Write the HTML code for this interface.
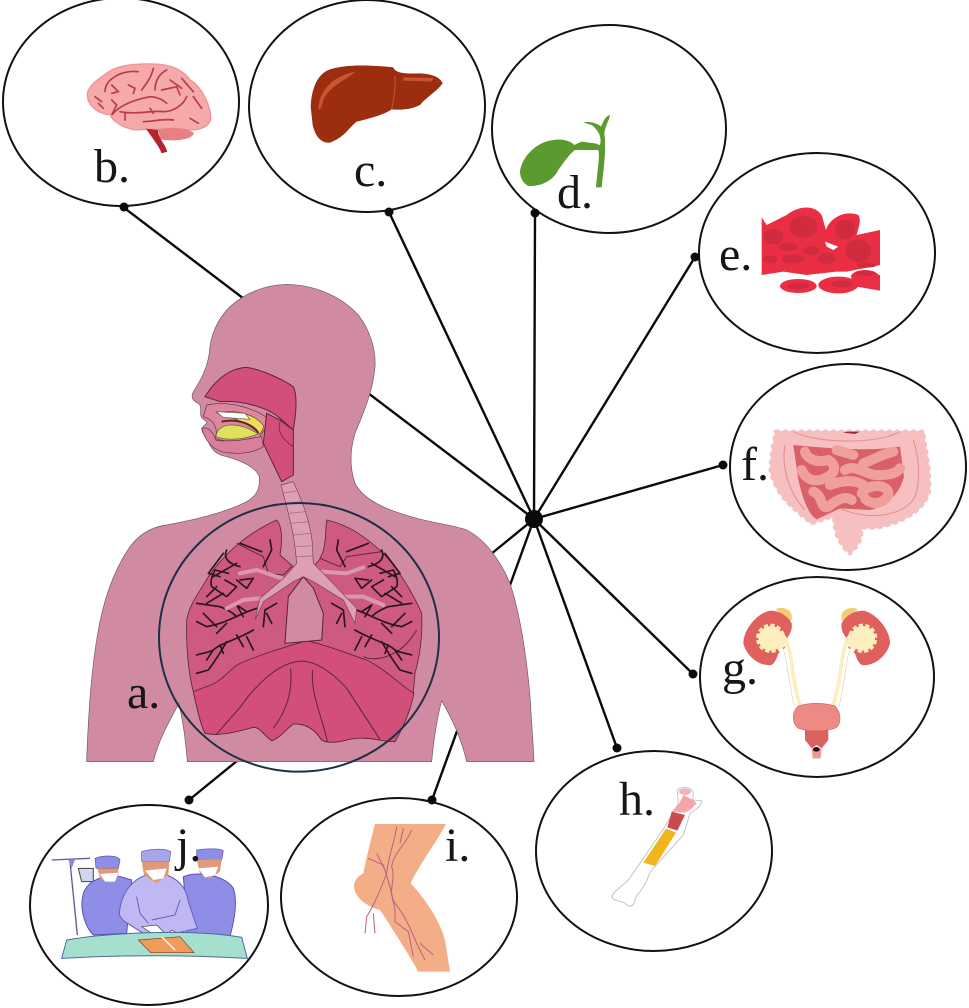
<!DOCTYPE html>
<html><head><meta charset="utf-8"><style>
html,body{margin:0;padding:0;background:#fff;width:969px;height:1008px;overflow:hidden}
svg{display:block}
text{font-family:"Liberation Serif",serif;font-size:48px;fill:#161616}
</style></head><body>
<svg width="969" height="1008" viewBox="0 0 969 1008" xmlns="http://www.w3.org/2000/svg">
<rect width="969" height="1008" fill="#fff"/>

<!-- bubbles -->
<g fill="none" stroke="#111" stroke-width="2">
<ellipse cx="121" cy="102" rx="118" ry="104"/>
<ellipse cx="367" cy="106" rx="118" ry="106"/>
<ellipse cx="609" cy="129" rx="117" ry="104"/>
<ellipse cx="817" cy="253" rx="118" ry="100"/>
<ellipse cx="848" cy="467" rx="118" ry="103"/>
<ellipse cx="817" cy="677" rx="117" ry="100"/>
<ellipse cx="654" cy="851" rx="118" ry="100"/>
<ellipse cx="399" cy="897" rx="118" ry="99"/>
<ellipse cx="149" cy="905" rx="119" ry="100"/>
</g>

<!-- connectors -->
<g stroke="#0a0a0a" stroke-width="2.4" fill="none">
<line x1="534" y1="519" x2="123" y2="207"/>
<line x1="534" y1="519" x2="389" y2="212"/>
<line x1="534" y1="519" x2="535" y2="213"/>
<line x1="534" y1="519" x2="695" y2="257"/>
<line x1="534" y1="519" x2="723" y2="465"/>
<line x1="534" y1="519" x2="693" y2="674"/>
<line x1="534" y1="519" x2="617" y2="748"/>
<line x1="534" y1="519" x2="432" y2="800"/>
<line x1="534" y1="519" x2="189" y2="800"/>
</g>
<g fill="#0a0a0a">
<circle cx="534" cy="519" r="9"/>
<circle cx="124" cy="207" r="4.5"/><circle cx="389" cy="212" r="4.5"/><circle cx="535" cy="213" r="4.5"/>
<circle cx="695" cy="257" r="4.5"/><circle cx="723" cy="465" r="4.5"/><circle cx="693" cy="674" r="4.5"/>
<circle cx="617" cy="748" r="4.5"/><circle cx="432" cy="800" r="4.5"/><circle cx="189" cy="800" r="4.5"/>
</g>

<!-- body and lungs -->
<g transform="translate(80,280) scale(.33333)">
<path d="M20,1445 C25,1300 35,1170 50,1080 C65,980 95,880 150,800 C180,760 220,740 260,735 C340,720 430,700 500,665 C535,645 540,620 538,590 C525,560 490,545 440,530 C410,525 395,510 385,485 C375,470 365,455 365,445 C372,435 385,430 380,425 C365,415 360,410 362,395 C362,380 362,372 350,368 C338,360 332,352 340,335 C360,305 380,270 388,220 C390,170 410,120 450,80 C500,35 560,15 620,13 C700,15 780,45 835,105 C870,150 888,210 885,260 C880,330 850,400 825,460 C810,510 808,560 825,610 C850,660 920,690 1000,712 C1060,730 1120,735 1160,750 C1220,780 1265,850 1290,910 C1320,1000 1340,1130 1350,1250 C1355,1330 1360,1400 1362,1445 L1160,1445 C1150,1400 1130,1340 1085,1262 C1070,1320 1060,1390 1055,1445 L322,1445 C318,1390 310,1330 297,1270 C270,1320 235,1380 220,1445 Z" fill="#d08ba3" stroke="#6f5560" stroke-width="2"/>

<!-- nasal/oral -->
<path d="M375,350 C400,310 440,265 500,262 C550,270 610,300 640,320 C655,350 645,420 640,450 L600,415 C560,380 480,360 420,365 Z" fill="#d14f78" stroke="#5e2439" stroke-width="3"/>
<path d="M365,445 C385,440 395,450 408,480 C440,490 510,470 545,470 L550,500 C520,520 470,525 425,515 C395,505 375,480 365,445Z" fill="#d87f9b" stroke="#6b3145" stroke-width="2"/>
<path d="M380,375 C440,362 520,380 570,420 L540,470 C490,480 440,490 405,475 C415,450 405,420 370,410 Z" fill="#dc86a0" stroke="#6b3145" stroke-width="2"/>
<path d="M412,400 C470,385 530,405 552,440 L540,462 C500,425 450,410 412,400Z" fill="#eedc5c" stroke="#5d4a20" stroke-width="2"/>
<path d="M408,395 L495,400 L510,418 L430,412Z" fill="#fff" stroke="#555" stroke-width="2"/>
<path d="M408,470 C410,430 470,420 535,462 C500,475 450,485 408,470Z" fill="#dfe05e" stroke="#5d5a20" stroke-width="2"/>
<path d="M425,425 C470,415 515,430 535,458" fill="none" stroke="#5a2a20" stroke-width="6"/>
<path d="M560,400 L600,420 L640,450 L640,585 L605,605 L550,490 Z" fill="#d14f78" stroke="#5e2439" stroke-width="3"/>
<path d="M605,415 C590,440 595,470 640,500" fill="none" stroke="#5e2439" stroke-width="2"/>

<!-- lungs -->
<path d="M320,1020 C330,970 350,950 385,890 C420,840 480,770 590,720 C610,740 605,800 600,825 L640,860 C660,880 670,885 670,890 L625,950 L615,1090 L725,1080 L730,1000 L700,925 L670,890 C690,870 720,840 720,835 C740,800 735,760 740,720 C810,735 860,775 905,815 C950,860 1000,940 1025,1000 C1028,1060 1022,1120 1005,1180 L1000,1240 C990,1300 965,1350 945,1385 C900,1385 860,1365 800,1380 C770,1388 740,1390 725,1380 C705,1350 680,1330 640,1332 C620,1345 600,1375 575,1382 C555,1370 540,1340 520,1342 C470,1355 420,1370 375,1360 C360,1330 350,1280 340,1235 C325,1180 318,1100 320,1020Z" fill="#cf5a7f" stroke="#5e2439" stroke-width="2.5"/>
<path d="M340,1235 L400,1212 C440,1190 450,1165 480,1150 C550,1120 620,1100 680,1082 C740,1095 800,1120 860,1140 C920,1170 960,1215 1002,1240 C990,1300 965,1350 945,1385 C900,1385 860,1365 800,1380 C770,1388 740,1390 725,1380 C705,1350 680,1330 640,1332 C620,1345 600,1375 575,1382 C555,1370 540,1340 520,1342 C470,1355 420,1370 375,1360 C360,1330 350,1280 340,1235Z" fill="#d14f78" stroke="#5e2439" stroke-width="2.5"/>
<g fill="none" stroke="#5e2439" stroke-width="3">
<path d="M410,1362 L480,1282 C530,1212 590,1155 650,1145 C700,1135 760,1180 800,1225 L900,1378"/>
<path d="M632,1165 C638,1230 622,1290 580,1345"/>
<path d="M698,1170 C690,1240 730,1320 742,1385"/>
<path d="M470,790 L550,830 L565,880 L610,885 L635,860 M905,815 L800,830 L780,860 L720,835"/>
<path d="M850,1130 C900,1150 970,1120 1010,1050"/>
</g>
<!-- heart gap outline -->
<path d="M670,890 L625,950 L615,1090 L725,1080 L730,1000 L700,925 Z" fill="#d08ba3" stroke="#5e2439" stroke-width="3"/>

<!-- black branches left -->
<g id="br" fill="none" stroke="#2a1520" stroke-width="5" stroke-linecap="round" stroke-linejoin="round">
<path d="M520,1050 C470,1080 420,1090 400,1110 C380,1120 365,1120 350,1125 M440,1085 C420,1120 400,1150 385,1170 L350,1180 M500,1070 L520,1110 M400,1110 L380,1140 M470,1065 L490,1100 M420,1095 L430,1120"/>
<path d="M530,985 C480,1000 440,1030 380,1040 L350,1025 M470,1010 C450,990 430,985 420,980 L350,970 M440,1030 L410,1060 M500,995 L470,975 L490,1010 M410,1040 L370,1000"/>
<path d="M480,860 C440,850 430,830 440,810 M445,880 L405,870 C395,890 390,905 395,920 L440,950 L470,920 L435,900 M480,900 L520,895 L500,925 L470,900 M430,820 L385,880 L420,890 M410,920 L380,950"/>
<path d="M560,1000 L575,1030 M590,970 L555,990 L550,1040 M570,780 L575,810 L550,860 M480,790 L545,815"/>
<path d="M380,970 L430,940 M400,890 L470,850"/>
</g>
<use href="#br" transform="translate(1345,0) scale(-1,1)"/>

<!-- trachea and bronchi -->
<g fill="none" stroke="#d998ae" stroke-width="12" stroke-linecap="round">
<path d="M620,900 L530,870 L480,880 M540,955 L490,960 L440,985 M725,875 L800,880 L850,862 M790,950 L850,950 L910,975"/>
</g>
<path d="M603,615 L640,605 C665,660 690,720 697,790 L700,850 L730,880 L830,985 L825,1030 L790,960 L700,905 L670,890 L640,905 L550,965 L525,1020 L540,955 L610,895 L650,850 C645,790 640,760 625,700 Z" fill="#dd9fb3" stroke="#7a4055" stroke-width="2"/>
<g stroke="#9c6077" stroke-width="2">
<path d="M610,640 L650,632 M615,670 L665,665 M625,700 L675,695 M635,730 L685,725 M640,765 L692,760 M645,800 L695,797 M645,830 L698,828"/>
</g>
<!-- big circle -->
<ellipse cx="657" cy="1072" rx="420" ry="403" fill="none" stroke="#1c2f45" stroke-width="6"/>
</g>

<!-- brain and liver -->
<g transform="translate(70,50) scale(.33333)">
<path d="M52,130 C60,100 90,85 110,70 C140,45 200,40 250,42 C300,42 340,60 360,90 C395,110 425,170 422,210 C410,240 370,245 320,235 C280,240 240,235 200,240 C160,235 130,215 120,195 C80,190 50,165 52,130Z" fill="#f5a9aa" stroke="#f39295" stroke-width="4"/>
<path d="M265,238 C300,230 360,235 372,250 C365,270 310,275 270,268Z" fill="#e87f80"/>
<path d="M228,236 L265,240 C262,262 285,280 292,305 L275,310 C265,285 245,262 228,236Z" fill="#b5232f"/>
<g fill="none" stroke="#b83c4a" stroke-width="5" stroke-linecap="round">
<path d="M105,125 C105,90 150,60 205,65 M125,105 L145,125 L125,130"/>
<path d="M175,105 L195,115 L190,130 M215,120 C230,100 245,80 250,55"/>
<path d="M255,120 C255,90 270,70 290,60 M275,120 L320,110 L330,135 M300,90 L335,115 M335,85 L370,125"/>
<path d="M125,150 L140,165 L125,195 C150,165 190,150 240,140 C260,140 280,150 290,160"/>
<path d="M75,140 L95,155 M85,160 L100,175"/>
<path d="M150,185 C200,195 250,180 280,185 C310,185 340,165 350,140"/>
<path d="M165,190 L165,210 M240,175 L250,190 M370,140 L395,175 M360,205 L385,220"/>
<path d="M220,215 C250,215 280,205 310,210"/>
</g>
<path d="M722,170 C725,110 745,70 780,58 C830,42 900,45 970,52 C975,68 1000,72 1050,70 C1085,72 1110,80 1118,100 C1100,125 1070,140 1050,165 C1020,180 990,180 965,178 C940,195 900,205 860,215 C830,240 825,260 780,278 C750,280 735,255 728,225Z" fill="#9c2d0f"/>
<path d="M745,180 C745,130 780,80 855,65 C840,85 790,100 765,140 C755,160 755,180 745,180Z" fill="#c9552e"/>
<path d="M975,78 C978,120 970,150 965,178" fill="none" stroke="#c9552e" stroke-width="3"/>
<path d="M1000,82 L1090,84 L1085,95 L1000,92Z" fill="#c9552e"/>
</g>

<!-- gallbladder and red cells -->
<g transform="translate(510,100) scale(.33333)">
<path d="M30,215 C35,170 80,125 130,120 C160,115 185,125 192,135 L215,125 L255,130 L270,135 C275,115 270,95 245,75 L220,68 C240,62 265,72 273,80 C280,65 285,48 300,45 C298,60 285,80 283,100 C290,150 280,210 275,262 L258,262 C262,210 270,170 265,150 L240,150 L195,150 C175,165 160,190 145,210 C125,250 80,260 55,258 C40,250 30,235 30,215Z" fill="#5b9a2f"/>
<path d="M755,352 L770,375 L830,345 C860,320 910,310 935,345 L948,390 C960,350 1010,330 1045,345 C1055,360 1045,385 1040,405 L1110,390 L1110,495 L1010,515 L980,515 L890,525 L820,515 L755,525 Z" fill="#ea2f45"/>
<g fill="#d02b3e">
<ellipse cx="880" cy="380" rx="42" ry="33"/><ellipse cx="1005" cy="388" rx="30" ry="30" transform="rotate(-35 1005 388)"/>
<ellipse cx="1045" cy="452" rx="38" ry="34"/><ellipse cx="790" cy="410" rx="30" ry="24"/>
<ellipse cx="835" cy="440" rx="28" ry="13"/><ellipse cx="850" cy="477" rx="35" ry="13"/>
<ellipse cx="905" cy="452" rx="25" ry="14"/><ellipse cx="950" cy="475" rx="28" ry="16"/>
<ellipse cx="780" cy="478" rx="22" ry="12"/><ellipse cx="1070" cy="495" rx="30" ry="8"/>
</g>
<path d="M945,425 L985,440 L970,450 L950,440Z" fill="#fff"/>
<g fill="#ea2f45">
<ellipse cx="865" cy="558" rx="55" ry="21"/><ellipse cx="985" cy="555" rx="60" ry="25"/>
<ellipse cx="1065" cy="530" rx="42" ry="20"/><path d="M1040,530 L1110,525 L1110,572 L1040,560Z"/>
</g>
<g fill="#d02b3e"><ellipse cx="865" cy="558" rx="34" ry="10"/><ellipse cx="995" cy="552" rx="32" ry="11"/><ellipse cx="1065" cy="520" rx="30" ry="7"/></g>
</g>

<!-- intestine and kidneys -->
<g transform="translate(730,420) scale(.33333)">
<path d="M135,33 L582,33 C585,80 602,130 600,210 C590,270 520,310 440,325 L395,325 C400,350 390,375 360,403 C330,380 310,340 310,290 L245,312 C190,270 130,220 120,150 C120,110 130,70 135,33Z" fill="#f6c0c0" stroke="#f6c0c0" stroke-width="8" stroke-dasharray="14 10" stroke-linejoin="round"/>
<path d="M190,75 C290,85 420,95 510,80 L522,170 C510,220 470,260 420,270 L330,265 L260,298 C230,280 215,220 205,180Z" fill="#d9606a"/>
<g fill="none" stroke="#f0a09c" stroke-width="30" stroke-linecap="round" stroke-linejoin="round">
<path d="M225,95 C230,115 260,130 295,120 C320,135 320,160 285,175 C250,190 225,175 215,150"/>
<path d="M250,215 C280,225 270,270 295,260 C320,240 345,225 365,240"/>
<path d="M300,195 C340,180 375,180 400,195"/>
<path d="M345,150 C380,130 410,170 450,165 C480,165 500,160 510,145"/>
<path d="M320,90 L370,105 M400,130 C430,120 450,105 490,95"/>
<path d="M395,220 C410,190 480,190 475,225 C460,255 420,255 405,235"/>
</g>
<path d="M350,35 L390,35 L375,42 L340,38Z" fill="#9c2a3b"/>
<g fill="none" stroke="#e58b8f" stroke-width="3">
<path d="M190,35 C260,70 440,75 510,35"/>
<path d="M165,75 C155,130 170,210 225,270"/>
<path d="M550,60 C570,120 570,190 555,230 C530,280 430,310 330,265"/>
</g>
<!-- kidney group -->
<g id="kid">
<path d="M137,567 C165,558 190,570 185,600 L170,610 Z" fill="#f3cd6f"/>
<path d="M120,572 C80,580 40,630 40,670 C50,710 90,740 125,735 C140,725 145,700 150,680 C165,660 190,640 185,610 C175,590 150,572 120,572Z" fill="#e0605e"/>
<circle cx="122" cy="655" r="44" fill="#fdeebd"/>
<circle cx="122" cy="655" r="44" fill="none" stroke="#e0605e" stroke-width="14" stroke-dasharray="8 14"/>
<path d="M150,640 C172,650 180,690 188,750 C195,800 205,840 212,858" fill="none" stroke="#fdeebd" stroke-width="11"/>
<path d="M155,680 C170,700 170,750 192,858" fill="none" stroke="#e8cfa0" stroke-width="2"/>
<path d="M140,630 L165,650 L165,680 L145,690Z" fill="#fdeebd"/>
</g>
<use href="#kid" transform="translate(520,0) scale(-1,1)"/>
<path d="M225,925 L295,925 L295,960 L275,985 L260,975 L245,985 L225,960Z" fill="#d9625f"/>
<path d="M245,985 L275,985 L272,1015 L248,1015Z" fill="#eb9a94"/>
<ellipse cx="259" cy="988" rx="10" ry="7" fill="#2a0f10"/>
<path d="M205,858 C240,848 280,848 315,858 C335,880 335,915 315,925 C280,935 235,935 205,925 C185,910 185,875 205,858Z" fill="#ee8a84" stroke="#d76660" stroke-width="2"/>
</g>

<!-- bone -->
<g transform="translate(590,770) scale(.33333)">
<path d="M262,60 C275,48 305,50 310,68 L308,90 L335,92 C335,110 315,120 300,130 L280,195 L190,295 L178,310 C170,340 150,365 135,385 C135,405 120,418 105,400 C90,390 70,395 65,380 C70,365 100,345 115,330 L150,280 L225,170 L265,100 Z" fill="#fff" stroke="#c5c5c5" stroke-width="3"/>
<path d="M268,100 L280,75 L310,90 L320,100 L300,120 L285,128 L245,125Z" fill="#f4a6a8"/>
<ellipse cx="285" cy="65" rx="18" ry="10" fill="#f4b3b5"/>
<path d="M245,125 L285,135 L262,182 L232,172Z" fill="#cb4a4d"/>
<path d="M228,176 L258,188 L195,288 L160,278Z" fill="#f0b51b"/>
</g>

<!-- surgeons and leg -->
<g transform="translate(20,800) scale(.33333)">
<path d="M95,180 L210,175 M150,185 L172,405" fill="none" stroke="#5d5a9c" stroke-width="4"/>
<path d="M145,180 L165,180 L155,205Z" fill="#9a82d8"/>
<path d="M175,205 L220,205 L220,245 L185,245Z" fill="#cfd8ee" stroke="#444" stroke-width="3"/>
<path d="M188,290 C195,240 260,220 300,230 L335,240 L320,400 L220,405 C195,380 180,330 188,290Z" fill="#8f8ee6" stroke="#5c4fb0" stroke-width="3"/>
<path d="M490,230 C540,210 620,230 640,265 C655,310 640,370 630,410 L500,400 L495,290Z" fill="#8f8ee6" stroke="#5c4fb0" stroke-width="3"/>
<path d="M225,175 C250,165 295,165 300,180 L295,205 L228,205Z" fill="#8f8ee6" stroke="#5c4fb0" stroke-width="2"/>
<path d="M232,205 L295,205 L295,230 L270,248 L240,235Z" fill="#e09a78"/>
<path d="M240,222 L295,218 L285,245 L255,245Z" fill="#fff"/>
<path d="M530,150 C560,145 600,145 610,152 L605,180 L530,178Z" fill="#8f8ee6" stroke="#5c4fb0" stroke-width="2"/>
<path d="M530,178 L605,178 L600,215 L570,235 L540,220Z" fill="#e09a78"/>
<path d="M535,205 L595,200 L585,225 L555,232Z" fill="#fff"/>
<path d="M298,345 C300,290 330,240 380,225 L440,225 C480,240 500,270 505,305 L532,385 L465,400 L370,400 L310,362Z" fill="#c0b8f2" stroke="#6a5cc0" stroke-width="3"/>
<path d="M350,290 L360,340 L385,370 M480,300 L465,345 L395,360" fill="none" stroke="#6a5cc0" stroke-width="3"/>
<path d="M365,155 C395,145 440,145 452,155 L448,185 L365,185Z" fill="#a8a6ea" stroke="#5c4fb0" stroke-width="2"/>
<path d="M365,185 L448,185 L445,225 L410,250 L372,225Z" fill="#e09a78"/>
<path d="M375,212 L440,205 L430,235 L400,240Z" fill="#fff"/>
<path d="M365,380 L410,375 L440,405 L455,390 L465,395 L465,410 L410,410Z" fill="#fff" stroke="#444" stroke-width="2"/>
<path d="M140,420 C250,400 500,385 665,412 L682,475 C500,465 300,465 125,475Z" fill="#a5e0cf" stroke="#4a6c9c" stroke-width="3"/>
<path d="M355,420 L480,410 L522,458 L392,458Z" fill="#ee9b5d" stroke="#7a4520" stroke-width="2"/>
<path d="M425,410 L465,450" stroke="#fff" stroke-width="4"/>
<!-- leg -->
<path d="M1065,72 L1278,72 C1260,110 1200,190 1172,250 C1210,290 1260,360 1275,420 L1290,515 L1195,515 C1170,470 1120,390 1080,330 C1040,320 1000,290 1002,255 C1005,235 1020,225 1030,220 C1040,170 1055,110 1065,72Z" fill="#f4ae87"/>
<g fill="none" stroke="#bb5f86" stroke-width="3">
<path d="M1130,80 C1125,120 1105,170 1100,220 C1085,260 1060,320 1040,350 L1035,400"/>
<path d="M1175,90 C1160,130 1120,160 1115,200 C1130,240 1100,270 1125,310 C1150,340 1170,380 1190,430 L1215,480"/>
<path d="M1045,175 L1090,195 L1110,260 L1125,330 L1125,365 L1165,395 L1180,470"/>
<path d="M1070,160 L1095,210 M1150,85 L1140,130 M1060,340 L1065,400 M1200,430 L1240,465"/>
</g>
</g>

<!-- labels -->
<text x="127" y="708">a.</text>
<text x="94" y="182">b.</text>
<text x="354" y="186">c.</text>
<text x="557" y="208">d.</text>
<text x="719" y="270">e.</text>
<text x="741" y="480">f.</text>
<text x="722" y="684">g.</text>
<text x="619" y="815">h.</text>
<text x="445" y="861">i.</text>
<text x="176" y="861">j.</text>
</svg>
</body></html>
